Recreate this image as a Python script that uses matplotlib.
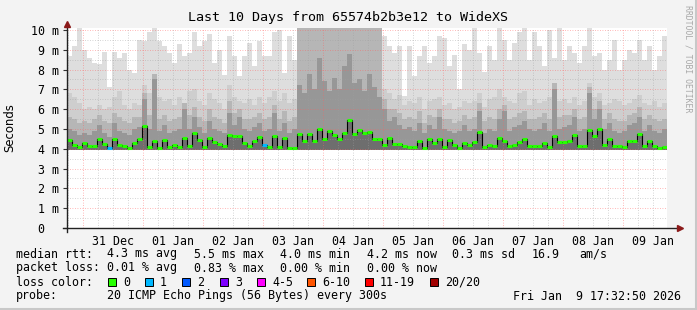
import numpy as np
import matplotlib
matplotlib.use('Agg')
import matplotlib.pyplot as plt
import matplotlib.dates as mdates
from matplotlib.patches import Rectangle
from matplotlib.ticker import MultipleLocator, FuncFormatter
from datetime import datetime, timedelta

# time span of the graph, 2 hour buckets
start = datetime(2025, 12, 30, 17, 32, 50)
end = datetime(2026, 1, 9, 17, 32, 50)
bin_hours = 2

# median rtt per bucket (ms)
median = [
    4.45, 4.2, 4.1, 4.3, 4.15, 4.15, 4.5, 4.25, 4.05, 4.5,
    4.2, 4.15, 4.05, 4.3, 4.5, 5.15, 4.1, 4.4, 4.05, 4.45,
    4.1, 4.2, 4.1, 4.55, 4.15, 4.8, 4.45, 4.1, 4.55, 4.35,
    4.25, 4.15, 4.7, 4.65, 4.65, 4.3, 4.15, 4.4, 4.6, 4.2,
    4.1, 4.65, 4.1, 4.55, 4.05, 4.05, 4.75, 4.4, 4.75, 4.4,
    5.0, 4.5, 4.9, 4.7, 4.5, 4.8, 5.45, 4.75, 4.95, 4.8,
    4.85, 4.5, 4.5, 4.2, 4.55, 4.25, 4.25, 4.15, 4.1, 4.1,
    4.4, 4.05, 4.5, 4.3, 4.5, 4.1, 4.45, 4.2, 4.05, 4.3,
    4.2, 4.35, 4.85, 4.1, 4.2, 4.15, 4.55, 4.4, 4.15, 4.2,
    4.35, 4.5, 4.15, 4.15, 4.15, 4.3, 4.1, 4.65, 4.35, 4.35,
    4.4, 4.7, 4.15, 4.15, 4.95, 4.65, 5.0, 4.2, 4.5, 4.15,
    4.15, 4.1, 4.4, 4.4, 4.75, 4.15, 4.4, 4.15, 4.05, 4.1,
]

# smoke: slowest ping per bucket (ms), 10.1 = off the chart
smoke_top = [
    8.7, 9.2, 10.1, 9.0, 8.6, 8.35, 8.3, 8.9, 7.1, 8.9,
    8.6, 8.85, 8.0, 7.85, 9.5, 9.45, 9.9, 10.1, 9.45, 9.2,
    8.85, 8.35, 9.3, 8.7, 8.85, 9.9, 9.2, 9.45, 9.8, 8.35,
    9.0, 7.75, 9.7, 8.7, 7.7, 8.7, 9.35, 8.2, 9.45, 8.7,
    8.7, 9.9, 10.0, 7.85, 9.7, 8.5, 10.1, 10.1, 10.1, 10.1,
    10.1, 10.1, 10.1, 10.1, 10.1, 10.1, 10.1, 10.1, 10.1, 10.1,
    10.1, 10.1, 10.1, 9.7, 9.2, 8.85, 9.2, 6.65, 9.2, 7.7,
    8.7, 9.2, 8.35, 8.7, 9.7, 9.6, 8.2, 8.75, 7.0, 9.3,
    9.0, 10.1, 8.85, 7.9, 9.2, 8.5, 10.1, 9.5, 8.5, 9.35,
    9.9, 10.1, 8.5, 9.9, 9.2, 8.2, 10.0, 8.6, 10.1, 8.5,
    9.2, 8.85, 8.35, 9.2, 10.1, 8.7, 8.85, 8.0, 8.5, 9.5,
    8.0, 8.5, 9.0, 8.85, 9.5, 8.5, 9.2, 8.0, 8.7, 9.7,
]

# upper smoke band (ms)
smoke_upper = [
    6.8, 6.6, 6.3, 6.0, 6.1, 6.0, 6.2, 6.0, 6.1, 6.6,
    6.9, 6.2, 6.0, 6.3, 6.2, 7.2, 6.8, 7.3, 6.6, 6.4,
    6.5, 6.2, 6.6, 6.3, 6.9, 7.0, 6.4, 6.2, 6.8, 6.5,
    6.3, 6.0, 7.2, 6.6, 6.4, 6.3, 6.5, 6.2, 6.6, 6.3,
    6.6, 6.9, 6.4, 6.8, 6.3, 6.5, 10.1, 10.1, 10.1, 10.1,
    10.1, 10.1, 10.1, 10.1, 10.1, 10.1, 10.1, 10.1, 10.1, 10.1,
    10.1, 10.1, 10.1, 7.0, 6.8, 6.5, 6.7, 6.2, 6.4, 6.3,
    6.6, 6.0, 6.4, 6.5, 6.6, 6.2, 6.3, 6.0, 6.1, 6.4,
    6.3, 6.4, 6.8, 6.1, 6.5, 6.6, 7.0, 6.6, 6.4, 6.3,
    6.8, 6.9, 6.2, 6.5, 6.3, 6.4, 6.6, 7.2, 6.4, 6.5,
    6.3, 6.6, 6.2, 6.4, 7.3, 6.6, 6.8, 6.2, 6.3, 6.5,
    6.4, 6.2, 6.3, 6.5, 6.7, 6.3, 6.2, 6.4, 6.1, 6.3,
]

# middle smoke band (ms)
smoke_mid = [
    5.6, 5.5, 5.3, 5.4, 5.3, 5.5, 5.7, 5.4, 5.3, 5.8,
    5.6, 5.4, 5.3, 5.6, 5.6, 6.8, 5.7, 7.8, 5.5, 5.7,
    5.4, 5.5, 5.6, 6.3, 5.7, 6.1, 5.6, 5.4, 6.0, 5.6,
    5.5, 5.3, 6.4, 5.8, 6.0, 5.5, 5.5, 5.6, 5.8, 5.5,
    5.6, 6.2, 5.5, 5.9, 5.4, 5.6, 10.1, 10.1, 10.1, 10.1,
    10.1, 10.1, 10.1, 10.1, 10.1, 10.1, 10.1, 10.1, 10.1, 10.1,
    10.1, 10.1, 10.1, 6.5, 6.0, 6.0, 5.8, 5.5, 5.6, 5.5,
    5.9, 5.3, 5.7, 5.6, 6.0, 5.5, 5.5, 5.3, 5.4, 5.7,
    5.5, 5.6, 6.3, 5.4, 5.6, 5.5, 6.0, 6.2, 5.5, 5.6,
    5.8, 5.9, 5.5, 5.5, 5.6, 5.8, 5.5, 7.3, 5.6, 5.7,
    5.7, 6.0, 5.5, 5.6, 7.1, 6.0, 6.4, 5.5, 5.8, 5.5,
    5.4, 5.4, 5.7, 5.8, 6.1, 5.5, 5.7, 5.5, 5.4, 5.5,
]

# dense core of the smoke (ms)
smoke_low = [
    5.0, 4.9, 4.7, 4.8, 4.7, 4.9, 5.2, 4.8, 4.6, 5.3,
    4.9, 4.8, 4.7, 5.0, 5.1, 6.5, 5.0, 7.5, 4.9, 5.2,
    4.8, 4.9, 5.0, 6.0, 5.0, 5.6, 5.1, 4.8, 5.4, 5.0,
    4.9, 4.8, 5.8, 5.2, 5.6, 5.0, 4.9, 5.1, 5.3, 4.9,
    5.0, 5.8, 4.9, 5.3, 4.8, 5.0, 7.2, 6.8, 7.8, 7.0,
    8.6, 7.4, 6.9, 7.6, 7.0, 8.2, 8.8, 7.3, 7.5, 6.9,
    7.8, 7.1, 6.6, 6.0, 5.4, 5.6, 5.2, 5.0, 5.1, 4.9,
    5.3, 4.8, 5.2, 5.0, 5.6, 5.0, 4.9, 4.8, 4.9, 5.2,
    4.9, 5.0, 5.9, 4.8, 5.0, 4.9, 5.5, 5.9, 4.9, 5.1,
    5.2, 5.4, 5.0, 4.9, 5.0, 5.3, 4.9, 7.0, 5.0, 5.1,
    5.2, 5.6, 4.9, 5.0, 6.8, 5.5, 6.0, 5.0, 5.3, 4.9,
    4.8, 4.9, 5.2, 5.3, 5.6, 4.9, 5.2, 4.9, 4.8, 5.0,
]

smoke_floor = 3.95
loss_bins = {8: 1, 39: 1}

loss_labels = ['0', '1', '2', '3', '4-5', '6-10', '11-19', '20/20']
loss_colors = ['#26ff00', '#00b8ff', '#0059ff', '#7e00ff',
               '#ff00ff', '#ff5500', '#ff0000', '#a10000']

rtt_stats = ['4.3 ms avg', '5.5 ms max', '4.0 ms min', '4.2 ms now',
             '0.3 ms sd', '16.9', 'am/s']
loss_stats = ['0.01 % avg', '0.83 % max', '0.00 % min', '0.00 % now']
probe_text = '20 ICMP Echo Pings (56 Bytes) every 300s'
stamp_text = 'Fri Jan  9 17:32:50 2026'
title = 'Last 10 Days from 65574b2b3e12 to WideXS'

W, H = 697, 310
MONO = 'DejaVu Sans Mono'
FS = 8.4


def fx(px):
    return px / W


def fy(py):
    return 1 - py / H


fig = plt.figure(figsize=(W / 100, H / 100), dpi=100, facecolor='#f3f3f3')
ax = fig.add_axes([fx(67), fy(228), 600 / W, 200 / H])
ax.set_facecolor('white')

edges = [start + timedelta(hours=bin_hours * i) for i in range(len(median) + 1)]
x = mdates.date2num(edges)


def stepped(v):
    v = np.asarray(v, dtype=float)
    return np.append(v, v[-1])


bands = [(smoke_top, '#dedede'), (smoke_upper, '#cecece'),
         (smoke_mid, '#b6b6b6'), (smoke_low, '#979797'), (median, '#6e6e6e')]
for vals, col in bands:
    ax.fill_between(x, smoke_floor, stepped(vals), step='post', color=col, lw=0)

ax.step(x, stepped(median), where='post', color='black', lw=0.8, zorder=3)
seg_colors = [loss_colors[loss_bins.get(i, 0)] for i in range(len(median))]
ax.hlines(median, x[:-1], x[1:], colors=seg_colors, lw=2.2, zorder=4)

ax.set_xlim(mdates.date2num(start), mdates.date2num(end))
ax.set_ylim(0, 10.1)

# grid
ax.xaxis.set_major_locator(mdates.DayLocator())
ax.xaxis.set_minor_locator(mdates.HourLocator(byhour=[6, 12, 18]))
ax.yaxis.set_major_locator(MultipleLocator(1))
ax.yaxis.set_minor_locator(MultipleLocator(0.5))
ax.grid(which='minor', color='#a0a0a0', alpha=0.6, lw=0.6, ls=(0, (1, 2)), zorder=5)
ax.grid(which='major', color='#ff6060', alpha=0.6, lw=0.6, ls=(0, (1, 2)), zorder=5)
ax.set_axisbelow(False)


def day_label(v, pos):
    d = mdates.num2date(v)
    return d.strftime('%d %b') if d.hour == 12 else ''


ax.xaxis.set_major_formatter(FuncFormatter(lambda v, p: ''))
ax.xaxis.set_minor_formatter(FuncFormatter(day_label))
ax.tick_params(axis='x', which='both', length=0, pad=5)
ax.set_yticks(range(11))
ax.set_yticklabels(['0  '] + [f'{i} m' for i in range(1, 11)])
ax.tick_params(axis='y', which='major', length=3, width=0.8, pad=3, color='#333333')
ax.tick_params(axis='y', which='minor', length=0)
for lab in ax.get_xticklabels(which='minor') + ax.get_yticklabels():
    lab.set_fontfamily(MONO)
    lab.set_fontsize(FS)

for s in ax.spines.values():
    s.set_visible(False)

# axes with arrows
ax.plot([-4 / 600, 1.02], [0, 0], transform=ax.transAxes, color='#222222',
        lw=1, clip_on=False, zorder=6)
ax.plot([0, 0], [-4 / 200, 1.02], transform=ax.transAxes, color='#222222',
        lw=1, clip_on=False, zorder=6)
ax.plot([1.022], [0], transform=ax.transAxes, marker='>', ms=4.5,
        color='#8b1a1a', clip_on=False, zorder=7)
ax.plot([0], [1.02], transform=ax.transAxes, marker='^', ms=4.5,
        color='#8b1a1a', clip_on=False, zorder=7)

# texts
fig.text(0.5, fy(17), title, ha='center', va='center', family=MONO, fontsize=9.6)
fig.text(fx(10), fy(128), 'Seconds', rotation=90, ha='center', va='center',
         family='DejaVu Sans', fontsize=8.4)
fig.text(fx(688), fy(5), 'RRDTOOL / TOBI OETIKER', rotation=270, ha='center',
         va='top', family=MONO, fontsize=5.9, color='#a8a8a8')

row_y = [254, 268, 282, 296]
rtt_x = [107, 194, 280, 367, 452, 532, 579]
fig.text(fx(16), fy(row_y[0]), 'median rtt:', va='center', family=MONO, fontsize=FS)
for s, px in zip(rtt_stats, rtt_x):
    fig.text(fx(px), fy(row_y[0]), s, va='center', family=MONO, fontsize=FS)
fig.text(fx(16), fy(row_y[1]), 'packet loss:', va='center', family=MONO, fontsize=FS)
for s, px in zip(loss_stats, rtt_x):
    fig.text(fx(px), fy(row_y[1]), s, va='center', family=MONO, fontsize=FS)

fig.text(fx(16), fy(row_y[2]), 'loss color:', va='center', family=MONO, fontsize=FS)
box_x = [108, 145, 182, 220, 257, 307, 365, 430]
for lab, col, px in zip(loss_labels, loss_colors, box_x):
    fig.add_artist(Rectangle((fx(px), fy(row_y[2] + 4)), 8 / W, 8 / H,
                             transform=fig.transFigure, facecolor=col,
                             edgecolor='black', lw=0.7))
    fig.text(fx(px + 15), fy(row_y[2]), lab, va='center', family=MONO, fontsize=FS)

fig.text(fx(16), fy(row_y[3]), 'probe:', va='center', family=MONO, fontsize=FS)
fig.text(fx(107), fy(row_y[3]), probe_text, va='center', family=MONO, fontsize=FS)
fig.text(fx(681), fy(row_y[3]), stamp_text, ha='right', va='center', family=MONO, fontsize=FS)

# frame shading
fig.add_artist(plt.Line2D([0, 1], [fy(309), fy(309)], color='#c8c8c8', lw=1.5))
fig.add_artist(plt.Line2D([fx(696), fx(696)], [0, 1], color='#c8c8c8', lw=1.5))

fig.savefig('out.png', dpi=100, facecolor=fig.get_facecolor())
